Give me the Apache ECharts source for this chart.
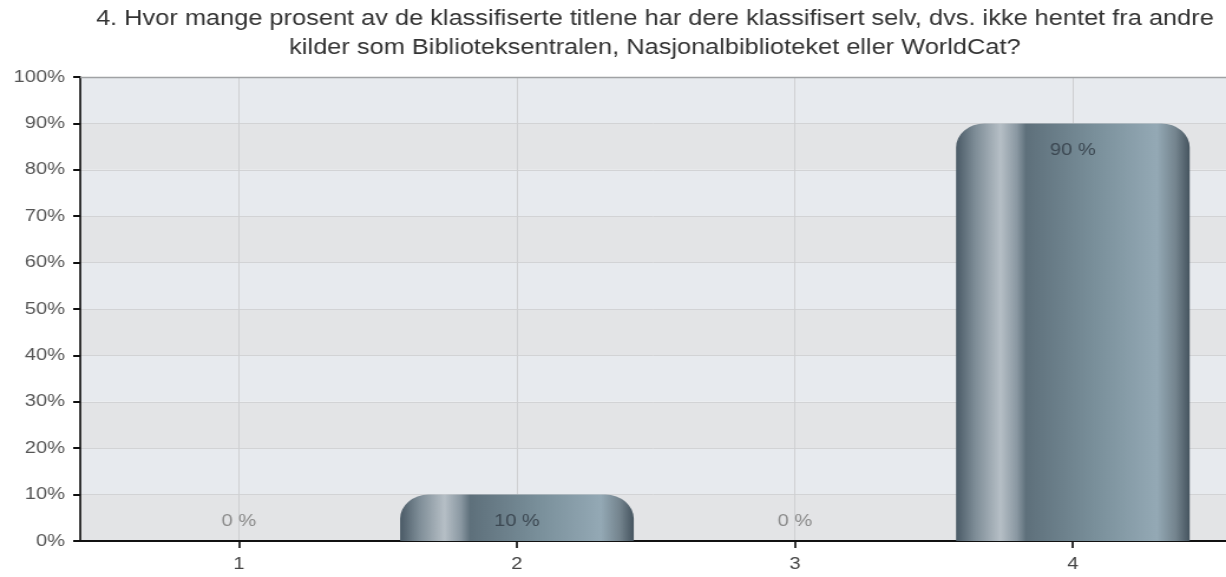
<!DOCTYPE html>
<html>
<head>
<meta charset="utf-8">
<script src="https://cdn.jsdelivr.net/npm/echarts@6/dist/echarts.min.js"></script>
<style>
  html, body { margin: 0; padding: 0; background: #fff; overflow: hidden; }
  /* the original picture is a horizontally stretched screenshot */
  #chart { width: 1039px; height: 577px; transform: scaleX(1.18); transform-origin: 0 0; }
</style>
</head>
<body>
<div id="chart"></div>
<script>
// survey answers (category number) and share in percent
const categories = [1, 2, 3, 4];
const shares = [0, 10, 0, 90];
const yTicks = [0, 10, 20, 30, 40, 50, 60, 70, 80, 90, 100];
const titleText = '4. Hvor mange prosent av de klassifiserte titlene har dere klassifisert selv, dvs. ikke hentet fra andre\nkilder som Biblioteksentralen, Nasjonalbiblioteket eller WorldCat?';

const chart = echarts.init(document.getElementById('chart'), null, { renderer: 'canvas' });

const barFill = new echarts.graphic.LinearGradient(0, 0, 1, 0, [
  { offset: 0, color: '#4a5a66' },
  { offset: 0.08, color: '#7d8c96' },
  { offset: 0.19, color: '#b6bfc6' },
  { offset: 0.26, color: '#8a98a2' },
  { offset: 0.30, color: '#5e707b' },
  { offset: 0.6, color: '#7a909b' },
  { offset: 0.86, color: '#94a9b5' },
  { offset: 0.94, color: '#74848e' },
  { offset: 1, color: '#45545f' }
]);

const data = categories.map((c, i) => {
  const v = shares[i];
  return {
    value: [c, v],
    label: v > 0
      ? { position: 'insideTop', distance: 18, color: '#3c4852' }
      : { position: 'top', distance: 11, color: '#8a8a8a' }
  };
});

chart.setOption({
  animation: false,
  title: {
    text: titleText,
    left: 555,
    textAlign: 'center',
    top: 5,
    padding: 0,
    textStyle: {
      fontFamily: 'Liberation Sans',
      fontSize: 21.5,
      fontWeight: 'normal',
      color: '#333',
      lineHeight: 29
    }
  },
  grid: { left: 68, right: 0, top: 77, bottom: 36 },
  xAxis: {
    type: 'value',
    min: 0.429,
    max: 4.551,
    axisLine: { show: true, lineStyle: { color: '#111', width: 2 } },
    axisTick: { show: true, customValues: categories, length: 7, lineStyle: { color: '#111', width: 1.7 } },
    axisLabel: {
      customValues: categories,
      fontFamily: 'Liberation Sans',
      fontSize: 17,
      color: '#444',
      margin: 15
    },
    splitLine: { show: true, lineStyle: { color: '#cfd0d2', width: 1 } }
  },
  yAxis: {
    type: 'value',
    min: yTicks[0],
    max: yTicks[yTicks.length - 1],
    interval: 10,
    axisLine: { show: true, lineStyle: { color: '#111', width: 1.7 } },
    axisTick: { show: true, length: 6, lineStyle: { color: '#111', width: 2 } },
    axisLabel: {
      formatter: '{value}%',
      fontFamily: 'Liberation Sans',
      fontSize: 17,
      color: '#555',
      margin: 13
    },
    splitLine: {
      show: true,
      lineStyle: { color: '#d2d3d5', width: 1 }
    },
    splitArea: {
      show: true,
      areaStyle: { color: ['#e3e4e6', '#e7eaee'] }
    }
  },
  graphic: [{
    type: 'line',
    z: 5,
    shape: { x1: 68, y1: 77.5, x2: 1039, y2: 77.5 },
    style: { stroke: '#a0a2a4', lineWidth: 1.5 }
  }],
  series: [{
    type: 'bar',
    barWidth: 198,
    data: data,
    itemStyle: {
      color: barFill,
      borderRadius: [24, 24, 0, 0]
    },
    label: {
      show: true,
      fontFamily: 'Liberation Sans',
      fontSize: 17,
      formatter: p => p.value[1] + ' %'
    }
  }]
});
</script>
</body>
</html>
